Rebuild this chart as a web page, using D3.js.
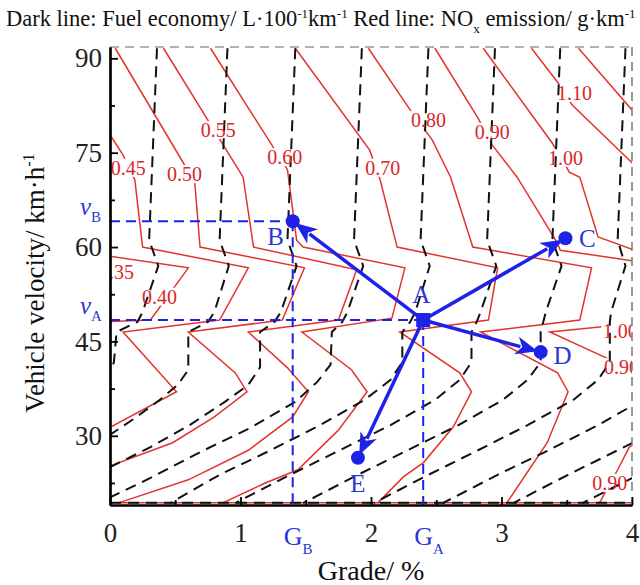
<!DOCTYPE html>
<html>
<head>
<meta charset="utf-8">
<script src="https://cdn.jsdelivr.net/npm/d3@7"></script>
<style>
body { margin: 0; background: #fff; }
svg text { font-family: "Liberation Serif", "Times New Roman", Times, "DejaVu Serif", serif; }
</style>
</head>
<body>
<div id="wrapper"></div>
<script>
// contour lines, points are [grade %, velocity km/h]
// red lines: NOx emission (g/km)
const nox040 = [[-0.19,59.1],[0.60,56.7],[0.31,48.4],[-0.08,48.1]];
const nox045 = [[-0.04,79.2],[0.10,74.6],[0.19,70.7],[0.25,60.0],[1.06,56.7],[0.84,48.4],[0.10,46.5],[0.51,37.0],[-0.04,30.9]];
const nox050 = [[0.04,91.6],[0.55,73.8],[0.65,70.2],[0.69,60.0],[1.49,56.7],[1.32,48.4],[0.60,46.5],[0.96,40.0],[1.05,37.0],[0.80,33.0],[0.48,28.9],[-0.04,24.9]];
const nox055 = [[0.41,91.6],[1.02,71.1],[1.10,60.0],[1.89,56.4],[1.75,48.4],[1.06,46.5],[1.36,40.8],[1.52,37.0],[1.40,33.0],[1.06,27.7],[0.60,23.0],[0.06,19.3]];
const nox060 = [[0.77,91.6],[1.36,72.3],[1.43,61.1],[1.48,60.0],[2.26,56.7],[2.16,48.7],[1.47,46.5],[1.85,40.5],[1.97,37.0],[1.75,30.9],[1.44,24.6],[1.19,22.5],[0.86,19.3]];
const nox070 = [[1.42,91.6],[1.99,75.4],[2.07,70.7],[2.20,60.0],[2.97,56.7],[2.90,48.4],[2.22,46.5],[2.68,40.0],[2.77,37.0],[2.63,31.4],[2.40,25.7],[2.25,23.5],[2.05,19.3]];
const nox080 = [[1.98,91.6],[2.30,81.8],[2.47,77.0],[2.61,71.1],[2.78,60.0],[3.69,56.7],[3.60,48.4],[2.84,46.5],[3.43,40.0],[3.51,37.0],[3.35,28.9],[3.04,19.3]];
const nox090 = [[2.49,91.6],[2.82,80.5],[2.93,76.2],[3.12,71.1],[3.43,60.6],[3.45,59.5],[4.37,56.7],[4.29,48.4],[3.37,46.5],[3.79,42.5],[4.21,38.1],[4.21,32.5],[4.06,29.3],[3.98,28.2],[3.89,24.6],[3.75,19.3]];
const nox100 = [[2.86,91.6],[3.39,76.5],[3.52,71.9],[3.60,71.1],[3.74,61.6],[4.06,59.2]];
const nox110 = [[3.23,91.6],[3.43,86.2],[3.54,82.6],[4.00,73.4],[4.14,70.7]];
const nox120 = [[3.59,91.6],[4.00,81.8],[4.14,78.6]];
const noxEdge = [[0,19.35],[4,19.35]];

// labels on the red lines: [text, grade, velocity]
const noxLabels = [
  ["0.35",0.05,56.0],["0.40",0.38,52.1],["0.45",0.14,72.6],["0.50",0.57,71.6],
  ["0.55",0.83,78.6],["0.60",1.34,74.3],["0.70",2.09,72.6],["0.80",2.44,80.2],
  ["0.90",2.93,78.3],["1.00",3.49,74.2],["1.10",3.56,84.5],["1.00",3.91,46.7],
  ["0.90",3.92,40.9],["0.90",3.83,22.5]
];

// dark dashed lines: fuel economy (L/100km)
const fuel1 = [[0.36,91.6],[0.30,61.1],[0.37,57.0],[0.25,49.7],[0.21,48.1],[0.05,46.5],[0.03,41.7],[-0.02,39.2]];
const fuel2 = [[0.90,91.6],[0.84,61.1],[0.91,57.0],[0.80,49.7],[0.75,48.1],[0.60,46.5],[0.60,40.5],[0.52,38.1],[0.38,35.7],[0.19,32.8],[-0.04,29.6]];
const fuel3 = [[1.42,91.6],[1.36,61.1],[1.43,57.0],[1.31,49.7],[1.26,48.1],[1.15,46.5],[1.15,40.9],[1.06,38.1],[0.88,35.4],[0.61,31.7],[0.31,28.2],[-0.04,24.6]];
const fuel4 = [[1.93,91.6],[1.87,61.1],[1.94,57.0],[1.82,49.7],[1.78,48.1],[1.70,46.5],[1.69,41.3],[1.59,38.6],[1.42,35.4],[1.07,31.2],[0.69,27.4],[0.31,23.3],[-0.04,19.8]];
const fuel5 = [[2.44,91.6],[2.38,61.1],[2.45,57.0],[2.34,49.7],[2.30,48.1],[2.24,46.5],[2.24,41.7],[2.15,38.9],[1.95,35.7],[1.61,31.7],[1.23,27.7],[0.84,23.8],[0.46,19.3]];
const fuel6 = [[2.95,91.6],[2.89,61.1],[2.96,57.0],[2.84,49.7],[2.81,48.1],[2.77,46.5],[2.77,41.7],[2.68,38.9],[2.49,35.7],[2.15,31.7],[1.76,27.7],[1.38,23.8],[0.96,19.3]];
const fuel7 = [[3.45,91.6],[3.39,61.1],[3.46,57.0],[3.34,49.7],[3.32,48.1],[3.30,46.5],[3.30,41.7],[3.20,38.9],[3.01,35.7],[2.67,31.7],[2.28,27.7],[1.90,23.8],[1.48,19.3]];
const fuel8 = [[3.95,91.6],[3.89,61.1],[3.95,57.0],[3.84,49.7],[3.83,48.1],[3.83,46.5],[3.83,41.7],[3.74,38.9],[3.55,35.7],[3.20,31.7],[2.82,27.7],[2.44,23.8],[2.02,19.3]];
const fuel9 = [[4.37,41.7],[4.28,38.9],[4.08,35.7],[3.74,31.7],[3.36,27.7],[2.97,23.8],[2.55,19.3]];
const fuel10 = [[4.90,41.7],[4.81,38.9],[4.62,35.7],[4.28,31.7],[3.89,27.7],[3.51,23.8],[3.09,19.3]];
const fuel11 = [[5.35,38.9],[5.16,35.7],[4.81,31.7],[4.43,27.7],[4.05,23.8],[3.62,19.3]];
const fuel12 = [[5.35,31.7],[4.97,27.7],[4.58,23.8],[4.16,19.3]];
const fuelEdge = [[0,19.35],[4,19.35]];

// operating points
const pointNames = ["A","B","C","D","E"];
const pointGrade = [2.40, 1.40, 3.49, 3.30, 1.90];
const pointSpeed = [48.4, 64.1, 61.4, 43.3, 26.5];

// axis ticks
const xTicks = [0,1,2,3,4];
const xMinor = [0.5,1.5,2.5,3.5];
const yTicks = [30,45,60,75,90];
const yMinor = [22.5,37.5,52.5,67.5,82.5];

const blue = "#1d22e6";
const red = "#e2342e";

const svg = d3.select("#wrapper").append("svg")
  .attr("width", 640).attr("height", 585);

const x = d3.scaleLinear().domain([0, 4]).range([110, 632]);
const y = d3.scaleLinear().domain([19, 91.8]).range([505, 47]);

svg.append("clipPath").attr("id", "plot").append("rect")
  .attr("x", x(0)).attr("y", y(91.8))
  .attr("width", x(4) - x(0)).attr("height", y(19) - y(91.8));

const plot = svg.append("g").attr("clip-path", "url(#plot)");
const line = d3.line().x(d => x(d[0])).y(d => y(d[1]));

// red NOx lines
const noxLines = [nox040, nox045, nox050, nox055, nox060, nox070, nox080, nox090, nox100, nox110, nox120, noxEdge];
plot.selectAll(".nox").data(noxLines).enter().append("path")
  .attr("class", "nox")
  .attr("d", line)
  .attr("fill", "none")
  .attr("stroke", red)
  .attr("stroke-width", 1.5);

// label gaps in the red lines
plot.selectAll(".gap").data(noxLabels).enter().append("rect")
  .attr("x", d => x(d[1]) - 19)
  .attr("y", d => y(d[2]) - 9)
  .attr("width", 38).attr("height", 18)
  .attr("fill", "#fff");

// dark dashed fuel lines
const fuelLines = [fuel1, fuel2, fuel3, fuel4, fuel5, fuel6, fuel7, fuel8, fuel9, fuel10, fuel11, fuel12, fuelEdge];
plot.selectAll(".fuel").data(fuelLines).enter().append("path")
  .attr("class", "fuel")
  .attr("d", line)
  .attr("fill", "none")
  .attr("stroke", "#111")
  .attr("stroke-width", 2)
  .attr("stroke-dasharray", "11,7");

plot.selectAll(".noxlab").data(noxLabels).enter().append("text")
  .attr("x", d => x(d[1])).attr("y", d => y(d[2]))
  .attr("dy", "0.35em")
  .attr("text-anchor", "middle")
  .attr("font-size", 20)
  .attr("fill", "#d8262a")
  .text(d => d[0]);

// top and right frame
svg.append("line")
  .attr("x1", x(0)).attr("x2", x(4)).attr("y1", y(91.8)).attr("y2", y(91.8))
  .attr("stroke", "#999").attr("stroke-width", 1.5).attr("stroke-dasharray", "9,6");
svg.append("line")
  .attr("x1", x(4)).attr("x2", x(4)).attr("y1", y(91.8)).attr("y2", y(19))
  .attr("stroke", "#777").attr("stroke-width", 1.5).attr("stroke-dasharray", "9,6");

// blue guides
const gA = pointGrade[0], vA = pointSpeed[0];
const gB = pointGrade[1], vB = pointSpeed[1];
const guides = [
  [[0, vA], [gA, vA]], [[gA, vA], [gA, 19]],
  [[0, vB], [gB, vB]], [[gB, vB], [gB, 19]]
];
svg.selectAll(".guide").data(guides).enter().append("path")
  .attr("d", line)
  .attr("fill", "none")
  .attr("stroke", blue)
  .attr("stroke-width", 2)
  .attr("stroke-dasharray", "10,6");

// arrows from A
const pts = pointNames.map((n, i) => ({ name: n, px: x(pointGrade[i]), py: y(pointSpeed[i]) }));
const a = pts[0];
pts.slice(1).forEach(p => {
  const dx = p.px - a.px, dy = p.py - a.py;
  const len = Math.hypot(dx, dy), ux = dx / len, uy = dy / len;
  const tipX = p.px - ux * 3, tipY = p.py - uy * 3;
  const baseX = tipX - ux * 22, baseY = tipY - uy * 22;
  svg.append("line")
    .attr("x1", a.px).attr("y1", a.py).attr("x2", baseX + ux * 4).attr("y2", baseY + uy * 4)
    .attr("stroke", blue).attr("stroke-width", 3.5);
  svg.append("path")
    .attr("d", `M${tipX},${tipY}L${baseX - uy * 9},${baseY + ux * 9}L${baseX + ux * 6},${baseY + uy * 6}L${baseX + uy * 9},${baseY - ux * 9}Z`)
    .attr("fill", blue);
});

svg.selectAll(".pt").data(pts.slice(1)).enter().append("circle")
  .attr("cx", d => d.px).attr("cy", d => d.py).attr("r", 7)
  .attr("fill", blue);
svg.append("rect")
  .attr("x", a.px - 7).attr("y", a.py - 7).attr("width", 14).attr("height", 14)
  .attr("fill", blue);

const labelShift = { A: [-2, -17], B: [-17, 24], C: [22, 9], D: [22, 12], E: [0, 34] };
svg.selectAll(".ptlab").data(pts).enter().append("text")
  .attr("x", d => d.px + labelShift[d.name][0])
  .attr("y", d => d.py + labelShift[d.name][1])
  .attr("text-anchor", "middle")
  .attr("font-size", 25)
  .attr("fill", "#2a37d4")
  .text(d => d.name);

// axes
svg.append("g").attr("transform", `translate(${x(0)},0)`)
  .call(d3.axisLeft(y).tickValues(yTicks).tickSize(-8).tickSizeOuter(0).tickPadding(8).tickFormat(d3.format("d")));
svg.append("g").attr("transform", `translate(${x(0)},0)`)
  .call(d3.axisLeft(y).tickValues(yMinor).tickSize(-5).tickSizeOuter(0).tickFormat(""));
svg.append("g").attr("transform", `translate(0,${y(19)})`)
  .call(d3.axisBottom(x).tickValues(xTicks).tickSize(-8).tickSizeOuter(0).tickPadding(18).tickFormat(d3.format("d")));
svg.append("g").attr("transform", `translate(0,${y(19)})`)
  .call(d3.axisBottom(x).tickValues(xMinor).tickSize(-5).tickSizeOuter(0).tickFormat(""));

svg.selectAll("g").filter(function() { return this.getAttribute("font-family") === "sans-serif"; })
  .attr("font-family", null);
svg.selectAll(".domain").attr("stroke", "#000").attr("stroke-width", 2.2);
svg.selectAll(".tick line").attr("stroke", "#000").attr("stroke-width", 1.8);
svg.selectAll(".tick text")
  .attr("font-size", 27)
  .attr("fill", "#222");

// blue axis marks v_A, v_B, G_A, G_B
const vMarks = [["A", vA], ["B", vB]];
vMarks.forEach(m => {
  const t = svg.append("text").attr("x", 80).attr("y", y(m[1]) - 6)
    .attr("fill", "#2a37d4").attr("font-size", 25);
  t.append("tspan").attr("font-style", "italic").text("v");
  t.append("tspan").attr("font-size", 15).attr("dy", 7).text(m[0]);
});
const gMarks = [["A", gA], ["B", gB]];
gMarks.forEach(m => {
  const t = svg.append("text").attr("x", x(m[1]) - 9).attr("y", y(19) + 40)
    .attr("fill", "#2a37d4").attr("font-size", 26);
  t.append("tspan").text("G");
  t.append("tspan").attr("font-size", 15).attr("dy", 9).text(m[0]);
});

// titles
const header = svg.append("text").attr("x", 6).attr("y", 26).attr("font-size", 22.5).attr("fill", "#111");
header.append("tspan").text("Dark line: Fuel economy/ L·100");
header.append("tspan").attr("font-size", 13).attr("dy", -8).text("-1");
header.append("tspan").attr("dy", 8).text("km");
header.append("tspan").attr("font-size", 13).attr("dy", -8).text("-1");
header.append("tspan").attr("dy", 8).text(" Red line: NO");
header.append("tspan").attr("font-size", 13).attr("dy", 7).text("x");
header.append("tspan").attr("dy", -7).text(" emission/ g·km");
header.append("tspan").attr("font-size", 13).attr("dy", -8).text("-1");

const yTitle = svg.append("text")
  .attr("transform", "translate(44,283) rotate(-90)")
  .attr("text-anchor", "middle").attr("font-size", 27).attr("fill", "#111");
yTitle.append("tspan").text("Vehicle velocity/ km·h");
yTitle.append("tspan").attr("font-size", 16).attr("dy", -10).text("-1");

svg.append("text").attr("x", 371).attr("y", 580)
  .attr("text-anchor", "middle").attr("font-size", 28).attr("fill", "#111")
  .text("Grade/ %");
</script>
</body>
</html>
